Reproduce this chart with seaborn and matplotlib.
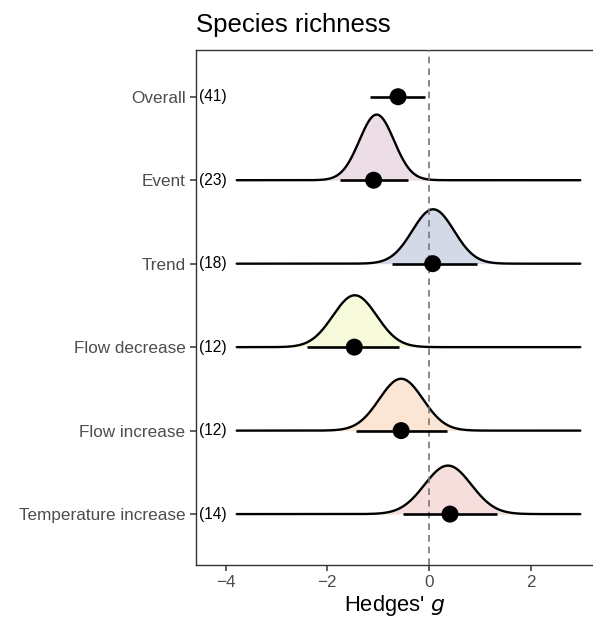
import numpy as np
import pandas as pd
import matplotlib.pyplot as plt
import seaborn as sns

categories = ['Overall', 'Event', 'Trend', 'Flow decrease', 'Flow increase', 'Temperature increase']
counts = [41, 23, 18, 12, 12, 14]
estimate = [-0.61, -1.09, 0.07, -1.47, -0.55, 0.41]
ci_low = [-1.17, -1.75, -0.72, -2.40, -1.43, -0.51]
ci_high = [-0.08, -0.42, 0.94, -0.60, 0.36, 1.34]

# posterior density of each moderator level (Overall has none)
dens_cats = ['Event', 'Trend', 'Flow decrease', 'Flow increase', 'Temperature increase']
dens_mean = [-1.03, 0.08, -1.46, -0.55, 0.37]
dens_sd = [0.34, 0.41, 0.43, 0.43, 0.46]
dens_fill = ['#ecdde7', '#d4d9e8', '#f7fadb', '#fbe6d6', '#f5dedc']

df = pd.DataFrame({'cat': categories, 'n': counts, 'g': estimate, 'lo': ci_low, 'hi': ci_high})
df['y'] = len(categories) - 1 - np.arange(len(categories))
ypos = dict(zip(df['cat'], df['y']))

sns.set_style('white')
plt.rcParams['font.family'] = ['Liberation Sans', 'DejaVu Sans']

fig = plt.figure(figsize=(5.93, 6.18), dpi=100)
ax = fig.add_axes([196 / 593, 1 - 565 / 618, 1 - 196 / 593, (565 - 50) / 618])

xs = np.linspace(-3.78, 2.97, 400)
scale = 0.67
for c, m, s, col in zip(dens_cats, dens_mean, dens_sd, dens_fill):
    y0 = ypos[c]
    d = np.exp(-0.5 * ((xs - m) / s) ** 2) / (s * np.sqrt(2 * np.pi))
    ax.fill_between(xs, y0, y0 + d * scale, color=col, lw=0, zorder=1)
    sns.lineplot(x=xs, y=y0 + d * scale, color='black', lw=1.7, ax=ax, zorder=2)

ax.axvline(0, color='#777777', ls=(0, (4, 3)), lw=1.2, zorder=3)
ax.hlines(df['y'], df['lo'], df['hi'], color='black', lw=1.9, zorder=4)
sns.scatterplot(data=df, x='g', y='y', color='black', s=150, edgecolor='none', ax=ax, zorder=5)

for _, r in df.iterrows():
    ax.annotate('(%d)' % r['n'], xy=(0, r['y']), xycoords=ax.get_yaxis_transform(),
                xytext=(2.5, 0), textcoords='offset points', ha='left', va='center',
                fontsize=11.2, color='black')

ax.set_xlim(-4.58, 3.22)
ax.set_ylim(-0.61, 5.56)
ax.set_yticks(df['y'])
ax.set_yticklabels(df['cat'])
ax.set_xticks([-4, -2, 0, 2])
ax.set_xticklabels(['\u22124', '\u22122', '0', '2'])
ax.tick_params(axis='both', length=4.5, width=1.1, color='#333333', labelsize=12.3,
               labelcolor='#4d4d4d', pad=3, left=True, bottom=True)
for sp in ['left', 'bottom', 'top']:
    ax.spines[sp].set_color('#333333')
    ax.spines[sp].set_linewidth(1)
ax.spines['right'].set_visible(False)

ax.set_xlabel("Hedges' $\\it{g}$", fontsize=15.8, labelpad=1.5, color='black')
ax.set_ylabel('')
ax.set_title('Species richness', fontsize=18.5, loc='left', pad=13, color='black')

fig.savefig('out.png', dpi=100)
